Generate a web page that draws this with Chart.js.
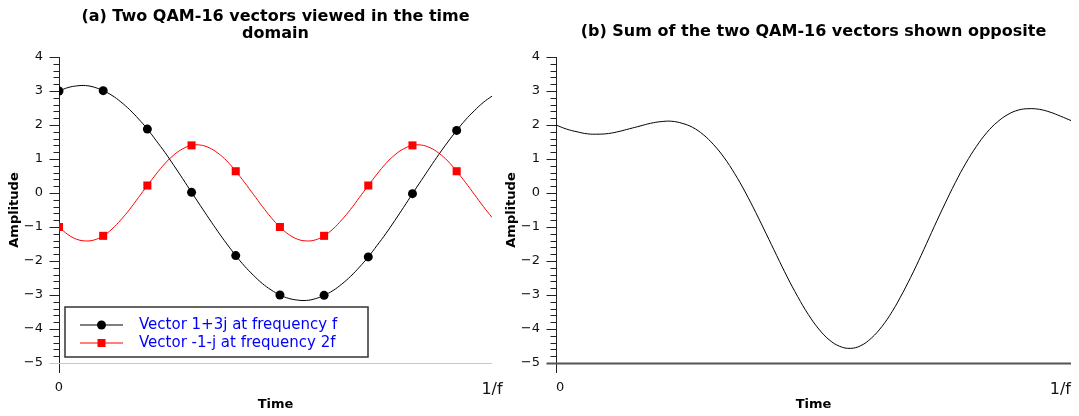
<!DOCTYPE html>
<html>
<head>
<meta charset="utf-8">
<script src="https://cdn.jsdelivr.net/npm/chart.js@4.4.1/dist/chart.umd.min.js"></script>
<style>
  html, body { margin: 0; padding: 0; background: #fff; overflow: hidden; }
  #wrap { position: relative; width: 1079px; height: 416px; }
  #parts { position: absolute; left: 0; top: 0; }
  #sum { position: absolute; left: 500px; top: 0; }
</style>
</head>
<body>
<div id="wrap">
  <canvas id="parts" width="520" height="416"></canvas>
  <canvas id="sum" width="600" height="416"></canvas>
</div>
<script>
// time axis, in fractions of one period 1/f
const times = [0, 0.02, 0.04, 0.06, 0.08, 0.1, 0.12, 0.14, 0.16, 0.18,
  0.2, 0.22, 0.24, 0.26, 0.28, 0.3, 0.32, 0.34, 0.36, 0.38,
  0.4, 0.42, 0.44, 0.46, 0.48, 0.5, 0.52, 0.54, 0.56, 0.58,
  0.6, 0.62, 0.64, 0.66, 0.68, 0.7, 0.72, 0.74, 0.76, 0.78,
  0.8, 0.82, 0.84, 0.86, 0.88, 0.9, 0.92, 0.94, 0.96, 0.98]

// 1+3j at f
const vector1 = [3.00, 3.10, 3.15, 3.16, 3.11, 3.01, 2.87, 2.68, 2.45, 2.18,
  1.88, 1.54, 1.19, 0.81, 0.42, 0.02, -0.37, -0.76, -1.14, -1.50,
  -1.84, -2.15, -2.42, -2.66, -2.85, -3.00, -3.10, -3.15, -3.16, -3.11,
  -3.01, -2.87, -2.68, -2.45, -2.18, -1.88, -1.54, -1.19, -0.81, -0.42,
  -0.02, 0.37, 0.76, 1.14, 1.50, 1.84, 2.15, 2.42, 2.66, 2.85]

// -1-j at 2f
const vector2 = [-1.00, -1.22, -1.36, -1.41, -1.38, -1.26, -1.06, -0.79, -0.48, -0.13,
  0.22, 0.56, 0.87, 1.12, 1.30, 1.40, 1.41, 1.33, 1.17, 0.94,
  0.64, 0.31, -0.04, -0.39, -0.72, -1.00, -1.22, -1.36, -1.41, -1.38,
  -1.26, -1.06, -0.79, -0.48, -0.13, 0.22, 0.56, 0.87, 1.12, 1.30,
  1.40, 1.41, 1.33, 1.17, 0.94, 0.64, 0.31, -0.04, -0.39, -0.72]

// the two added together
const vectorSum = [2.00, 1.88, 1.80, 1.74, 1.73, 1.75, 1.81, 1.89, 1.97, 2.05,
  2.10, 2.11, 2.05, 1.93, 1.72, 1.42, 1.04, 0.57, 0.03, -0.57,
  -1.20, -1.84, -2.47, -3.05, -3.57, -4.00, -4.32, -4.51, -4.57, -4.49,
  -4.27, -3.93, -3.48, -2.93, -2.32, -1.66, -0.98, -0.32, 0.31, 0.88,
  1.37, 1.78, 2.09, 2.31, 2.44, 2.48, 2.46, 2.38, 2.26, 2.13]

const legendLabels = ['Vector 1+3j at frequency f', 'Vector -1-j at frequency 2f']
const xTickLabels = ['0', '1/f']
const yRange = [-5, 4]
const markerEvery = 5

const FONT = 'DejaVu Sans'

const points = ys => times.map((t, i) => ({ x: t, y: ys[i] }))

// ticks, y axis line and the -5 baseline
const axisDecor = {
  id: 'axisDecor',
  beforeDatasetsDraw (chart, args, opts) {
    const { ctx, chartArea: { left, right, bottom } } = chart
    const y = chart.scales.y
    const ax = Math.round(left) + 0.5
    ctx.save()
    ctx.strokeStyle = '#222'
    ctx.lineWidth = 1
    for (let i = 1; i <= (yRange[1] - yRange[0]) * 5; i++) {
      const py = Math.round(y.getPixelForValue(yRange[0] + i * 0.2)) + 0.5
      const len = i % 5 === 0 ? 10 : 6
      ctx.beginPath()
      ctx.moveTo(ax - len, py)
      ctx.lineTo(ax, py)
      ctx.stroke()
    }
    ctx.beginPath()
    ctx.moveTo(ax, y.getPixelForValue(yRange[1]))
    ctx.lineTo(ax, bottom + 10)
    ctx.stroke()
    const by = Math.round(bottom) + 0.5
    ctx.strokeStyle = opts.baseColor
    ctx.lineWidth = opts.baseWidth
    ctx.beginPath()
    ctx.moveTo(ax - 10, by)
    ctx.lineTo(right, by)
    ctx.stroke()
    ctx.restore()
  }
}

const plotTitle = {
  id: 'plotTitle',
  afterDraw (chart, args, opts) {
    const { ctx, chartArea: { left, right } } = chart
    ctx.save()
    ctx.font = 'bold 16px ' + FONT
    ctx.fillStyle = '#000'
    ctx.textAlign = 'center'
    ctx.textBaseline = 'middle'
    opts.lines.forEach((line, i) => ctx.fillText(line, (left + right) / 2, opts.top + i * 17))
    ctx.restore()
  }
}

// boxed legend in the lower left of the plot
const boxLegend = {
  id: 'boxLegend',
  afterDatasetsDraw (chart, args, opts) {
    if (!opts.show) return
    const { ctx } = chart
    const bx = 65, by = 307, bw = 303, bh = 50
    ctx.save()
    ctx.fillStyle = '#fff'
    ctx.fillRect(bx, by, bw, bh)
    ctx.strokeStyle = '#333'
    ctx.lineWidth = 1.5
    ctx.strokeRect(bx, by, bw, bh)
    chart.data.datasets.forEach((ds, i) => {
      const ly = by + 18 + i * 18
      ctx.strokeStyle = ds.borderColor
      ctx.lineWidth = 1.2
      ctx.beginPath()
      ctx.moveTo(80, ly)
      ctx.lineTo(123, ly)
      ctx.stroke()
      ctx.fillStyle = ds.pointBackgroundColor
      if (ds.pointStyle === 'rect') {
        ctx.fillRect(97.5, ly - 4, 8, 8)
      } else {
        ctx.beginPath()
        ctx.arc(101.5, ly, 4.5, 0, Math.PI * 2)
        ctx.fill()
      }
      ctx.fillStyle = '#0000ff'
      ctx.font = '15px ' + FONT
      ctx.textAlign = 'left'
      ctx.textBaseline = 'middle'
      ctx.fillText(ds.label, 139, ly)
    })
    ctx.restore()
  }
}

function makeOptions (opts) {
  return {
    responsive: false,
    animation: false,
    layout: { padding: { top: 57, right: opts.padRight, left: 0, bottom: 0 } },
    plugins: {
      legend: { display: false },
      tooltip: { enabled: false },
      axisDecor: { baseColor: opts.baseColor, baseWidth: opts.baseWidth },
      plotTitle: { lines: opts.title, top: opts.titleTop },
      boxLegend: { show: opts.legend }
    },
    scales: {
      x: {
        type: 'linear',
        min: 0,
        max: times[times.length - 1],
        afterBuildTicks: scale => { scale.ticks = [{ value: scale.min }, { value: scale.max }] },
        afterFit: scale => { scale.height = 416 - 363 },
        border: { display: false },
        grid: { display: false, drawTicks: false },
        ticks: {
          padding: 17,
          align: opts.xTickAlign,
          maxRotation: 0,
          autoSkip: false,
          color: '#111',
          font: c => ({ family: FONT, size: c.index === 0 ? 13 : 16 }),
          callback: (v, i) => xTickLabels[i]
        },
        title: {
          display: true,
          text: 'Time',
          color: '#000',
          font: { family: FONT, size: 13, weight: 'bold' },
          padding: { top: 0, bottom: 4 }
        }
      },
      y: {
        min: yRange[0],
        max: yRange[1],
        afterFit: scale => { scale.width = opts.axisWidth },
        border: { display: false },
        grid: { display: false, drawTicks: false },
        ticks: {
          stepSize: 1,
          padding: 16,
          color: '#111',
          font: { family: FONT, size: 13 },
          callback: v => (v < 0 ? '\u2212' + Math.abs(v) : String(v))
        },
        title: {
          display: true,
          text: 'Amplitude',
          color: '#000',
          font: { family: FONT, size: 13, weight: 'bold' },
          padding: { top: opts.yTitlePad, bottom: 0 }
        }
      }
    }
  }
}

const markerRadius = size => c => (c.dataIndex % markerEvery === 0 ? size : 0)

new Chart(document.getElementById('parts').getContext('2d'), {
  type: 'line',
  data: {
    datasets: [
      {
        label: legendLabels[0],
        data: points(vector1),
        borderColor: '#000',
        borderWidth: 1,
        tension: 0.4,
        pointStyle: 'circle',
        pointRadius: markerRadius(4.5),
        pointBackgroundColor: '#000',
        pointBorderWidth: 0
      },
      {
        label: legendLabels[1],
        data: points(vector2),
        borderColor: '#ff0000',
        borderWidth: 1,
        tension: 0.4,
        pointStyle: 'rect',
        pointRadius: markerRadius(5.7),
        pointBackgroundColor: '#ff0000',
        pointBorderWidth: 0
      }
    ]
  },
  options: makeOptions({
    padRight: 28,
    axisWidth: 59,
    yTitlePad: 7,
    xTickAlign: 'center',
    baseColor: '#c8c8c8',
    baseWidth: 1,
    title: ['(a) Two QAM-16 vectors viewed in the time', 'domain'],
    titleTop: 17,
    legend: true
  }),
  plugins: [axisDecor, plotTitle, boxLegend]
})

new Chart(document.getElementById('sum').getContext('2d'), {
  type: 'line',
  data: {
    datasets: [
      {
        label: 'Sum',
        data: points(vectorSum),
        borderColor: '#000',
        borderWidth: 1,
        tension: 0.4,
        pointRadius: 0
      }
    ]
  },
  options: makeOptions({
    padRight: 29,
    axisWidth: 56,
    yTitlePad: 4,
    xTickAlign: 'inner',
    baseColor: '#555',
    baseWidth: 2,
    title: ['(b) Sum of the two QAM-16 vectors shown opposite'],
    titleTop: 32,
    legend: false
  }),
  plugins: [axisDecor, plotTitle, boxLegend]
})
</script>
</body>
</html>
